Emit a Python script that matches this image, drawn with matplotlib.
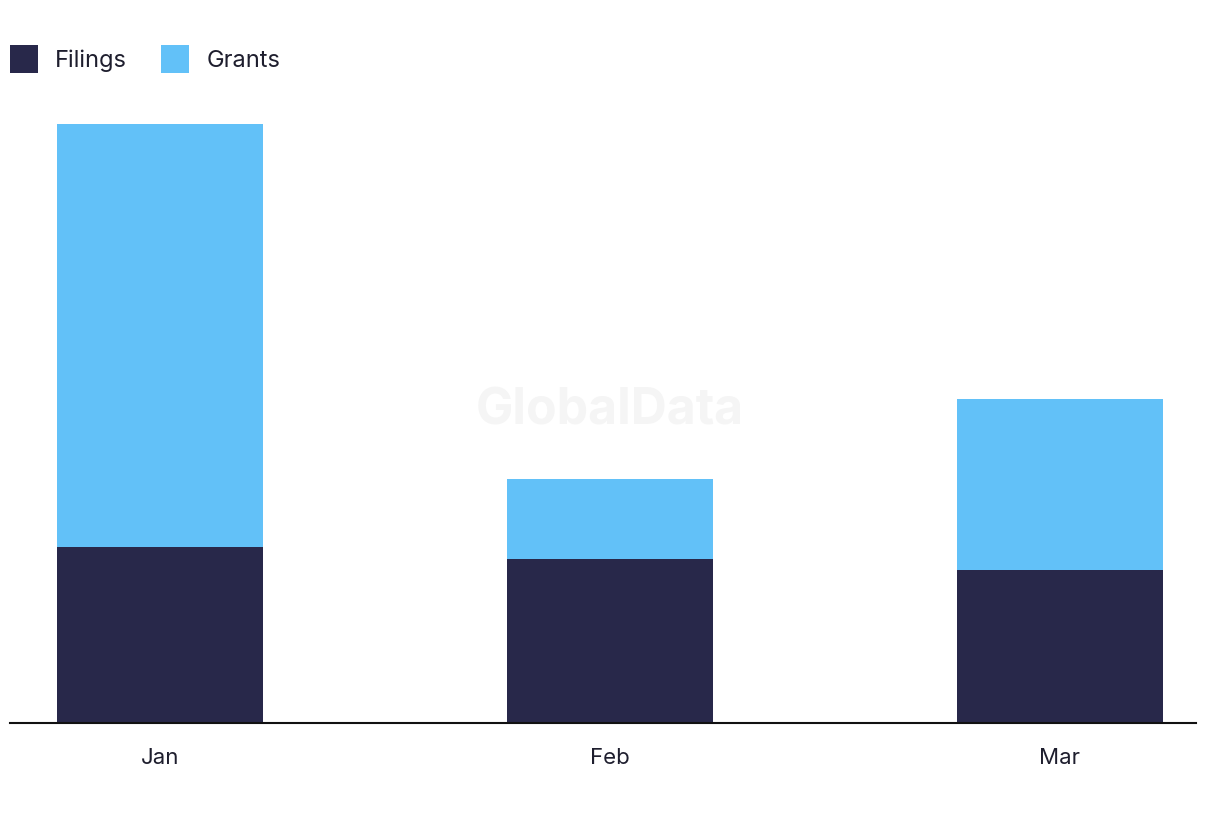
import numpy as np
import matplotlib.pyplot as plt

plt.rcParams['font.family'] = ['Inter', 'DejaVu Sans']

months = ['Jan', 'Feb', 'Mar']
filings = [15, 14, 13]
grants = [36, 6.8, 14.6]

navy = '#28284a'
blue = '#62c1f8'

fig = plt.figure(figsize=(12.2, 8.22), dpi=100)
# axes: left at x=10px, right at 1196px, baseline at y=723px
ax = fig.add_axes([10 / 1220, (822 - 723) / 822, 1186 / 1220, 640 / 822])

x = np.arange(len(months))
ax.bar(x, filings, width=0.458, color=navy, label='Filings', zorder=2)
ax.bar(x, grants, width=0.458, bottom=filings, color=blue, label='Grants', zorder=2)

# Jan centre at 160px, Mar centre at 1060px -> 450px per step
ax.set_xlim(-150 / 450, 2 + 136 / 450)
ax.set_ylim(0, (51 * 640) / (723 - 124))

for s in ['top', 'right', 'left']:
    ax.spines[s].set_visible(False)
ax.spines['bottom'].set_color('#111111')
ax.spines['bottom'].set_linewidth(1.5)
ax.set_yticks([])
ax.set_xticks(x)
ax.set_xticklabels(months, fontsize=16, color='#1e1e2e')
ax.tick_params(axis='x', length=0, pad=18)

fig.text(0.5, 0.5, 'GlobalData', fontsize=36, fontweight='bold',
         color='#f5f5f5', ha='center', va='center', zorder=0)

leg = fig.legend(loc='upper left', bbox_to_anchor=(0.0, 0.957), ncol=2,
                 frameon=False, fontsize=17, handlelength=1.19, handleheight=1.45,
                 handletextpad=0.72, columnspacing=1.45, borderaxespad=0.0,
                 borderpad=0.42)
for t in leg.get_texts():
    t.set_color('#1e1e2e')

fig.savefig('out.png', dpi=100)
